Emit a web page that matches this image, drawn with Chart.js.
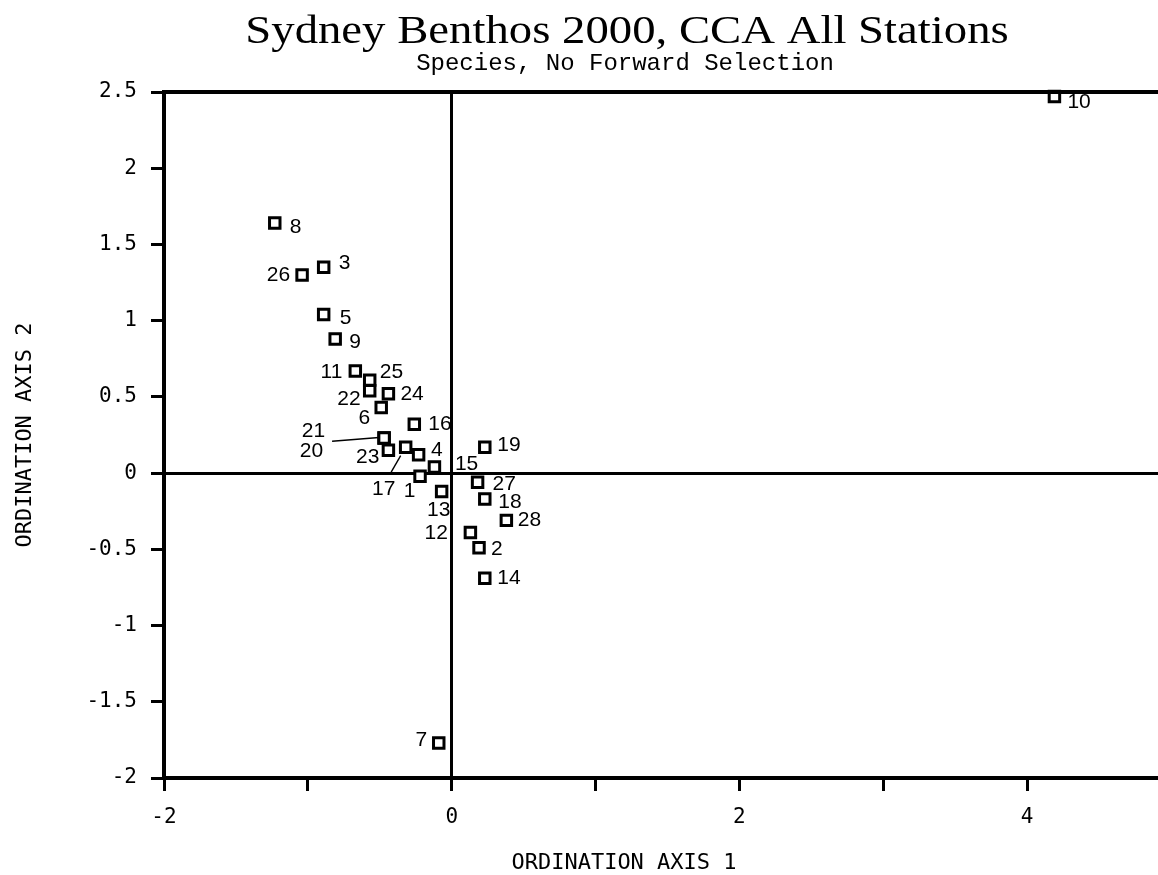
<!DOCTYPE html>
<html>
<head>
<meta charset="utf-8">
<title>Sydney Benthos 2000, CCA All Stations</title>
<script src="https://cdn.jsdelivr.net/npm/chart.js@4.4.1/dist/chart.umd.min.js"></script>
<style>
  html, body { margin: 0; padding: 0; background: #fff; overflow: hidden; }
  #plot { display: block; }
</style>
</head>
<body>
<canvas id="plot" width="1158" height="875"></canvas>
<script>
// Station scores on the first two CCA axes
const stations = ['1','2','3','4','5','6','7','8','9','10','11','12','13','14',
                  '15','16','17','18','19','20','21','22','23','24','25','26','27','28'];
const axis1 = [-0.22, 0.19, -0.89, -0.23, -0.89, -0.49, -0.09, -1.23, -0.81, 4.19,
               -0.67, 0.13, -0.07, 0.23, -0.12, -0.26, -0.32, 0.23, 0.23, -0.47,
               -0.47, -0.57, -0.44, -0.44, -0.57, -1.04, 0.18, 0.38];
const axis2 = [-0.02, -0.49, 1.35, 0.12, 1.04, 0.43, -1.77, 1.64, 0.88, 2.47,
               0.67, -0.39, -0.12, -0.69, 0.04, 0.32, 0.17, -0.17, 0.17, 0.23,
               0.23, 0.54, 0.15, 0.52, 0.61, 1.30, -0.06, -0.31];

// Axis ticks
const xTickValues = [-2, -1, 0, 1, 2, 3, 4];
const xTickLabels = ['-2', '', '0', '', '2', '', '4'];
const yTickValues = [-2, -1.5, -1, -0.5, 0, 0.5, 1, 1.5, 2, 2.5];
const yTickLabels = ['-2', '-1.5', '-1', '-0.5', '0', '0.5', '1', '1.5', '2', '2.5'];

const titleText = 'Sydney Benthos 2000, CCA All Stations';
const subtitleText = 'Species, No Forward Selection';
const xAxisTitle = 'ORDINATION AXIS 1';
const yAxisTitle = 'ORDINATION AXIS 2';

// Where each station number sits relative to its marker: [dx, dy, align]
const labelPlacement = {
  '1': [-4.5, 15.5, 'right'],  '2': [12, 1, 'left'],     '3': [15, -4, 'left'],
  '4': [12.5, -4.5, 'left'],   '5': [16, 4, 'left'],     '6': [-11, 11, 'right'],
  '7': [-11.5, -2.5, 'right'], '8': [15, 4, 'left'],     '9': [14, 3, 'left'],
  '10': [13, 6, 'left'],       '11': [-13, 1, 'right'],  '12': [-22.5, 1, 'right'],
  '13': [-3, 18.5, 'center'],  '14': [12.5, 0, 'left'],  '15': [20.5, -2.5, 'left'],
  '16': [14, 0, 'left'],       '17': [-22, 42, 'center'],'18': [13.5, 3.5, 'left'],
  '19': [12.5, -2, 'left'],    '20': [-61, 13, 'right'], '21': [-59, -7, 'right'],
  '22': [-9, 8, 'right'],      '23': [-9, 6.5, 'right'], '24': [12, 0, 'left'],
  '25': [10, -8, 'left'],      '26': [-12, 0, 'right'],  '27': [15, 2, 'left'],
  '28': [11.5, 0, 'left']
};
// Leader lines for labels set away from their marker: [x1, y1, x2, y2] offsets
const leaderLines = {
  '21': [-52, 3.2, -5, -0.5],
  '17': [-14.5, 25, -5, 8.5]
};

const tickFont = { family: '"DejaVu Sans Mono", monospace', size: 21 };

const pointLabels = {
  id: 'pointLabels',
  afterDatasetsDraw(chart) {
    const ctx = chart.ctx;
    const meta = chart.getDatasetMeta(0);
    ctx.save();
    ctx.fillStyle = '#000';
    ctx.strokeStyle = '#000';
    ctx.font = '21px "Liberation Sans", Arial, sans-serif';
    ctx.textBaseline = 'middle';
    meta.data.forEach((pt, i) => {
      const name = stations[i];
      const [dx, dy, align] = labelPlacement[name];
      ctx.textAlign = align;
      ctx.fillText(name, pt.x + dx, pt.y + dy);
      const lead = leaderLines[name];
      if (lead) {
        ctx.lineWidth = 1.4;
        ctx.beginPath();
        ctx.moveTo(pt.x + lead[0], pt.y + lead[1]);
        ctx.lineTo(pt.x + lead[2], pt.y + lead[3]);
        ctx.stroke();
      }
    });
    ctx.restore();
  }
};

const frameAndHeadings = {
  id: 'frameAndHeadings',
  afterDraw(chart) {
    const ctx = chart.ctx;
    const area = chart.chartArea;
    ctx.save();
    // top edge of the plot frame
    ctx.strokeStyle = '#000';
    ctx.lineWidth = 4;
    ctx.beginPath();
    ctx.moveTo(area.left, area.top);
    ctx.lineTo(area.right, area.top);
    ctx.stroke();

    ctx.fillStyle = '#000';
    ctx.textAlign = 'center';
    ctx.textBaseline = 'alphabetic';
    // main heading, slightly widened serif
    ctx.save();
    ctx.translate(627, 43);
    ctx.scale(1.14, 1);
    ctx.font = '41px "Liberation Serif", "Times New Roman", serif';
    ctx.fillText(titleText, 0, 0);
    ctx.restore();
    // subheading
    ctx.font = '24px "Liberation Mono", monospace';
    ctx.fillText(subtitleText, 625, 70);
    // horizontal axis caption
    ctx.font = '22px "DejaVu Sans Mono", monospace';
    ctx.textBaseline = 'middle';
    ctx.fillText(xAxisTitle, 624, 863);
    ctx.restore();
  }
};

const zeroLine = (c) => (c.tick && c.tick.value === 0) ? '#000' : 'rgba(0,0,0,0)';

new Chart(document.getElementById('plot'), {
  type: 'scatter',
  data: {
    datasets: [{
      data: stations.map((s, i) => ({ x: axis1[i], y: axis2[i] })),
      pointStyle: 'rect',
      pointRadius: 7.4,
      pointHoverRadius: 7.4,
      pointBorderWidth: 3,
      borderColor: '#000',
      backgroundColor: '#fff',
      clip: false
    }]
  },
  options: {
    responsive: false,
    devicePixelRatio: 1,
    animation: false,
    events: [],
    layout: { autoPadding: false, padding: { top: 92, left: 0, right: 0, bottom: 0 } },
    plugins: {
      legend: { display: false },
      tooltip: { enabled: false },
      title: { display: false }
    },
    scales: {
      x: {
        type: 'linear',
        position: 'bottom',
        min: -2,
        max: 4.91,
        afterBuildTicks: (s) => { s.ticks = xTickValues.map(v => ({ value: v })); },
        afterFit: (s) => { s.height = 97; s.paddingLeft = 0; s.paddingRight = 0; },
        ticks: {
          font: tickFont,
          color: '#000',
          padding: 14,
          maxRotation: 0,
          autoSkip: false,
          callback: (v) => xTickLabels[xTickValues.indexOf(v)]
        },
        grid: {
          color: zeroLine,
          lineWidth: 3,
          drawTicks: true,
          tickLength: 13,
          tickColor: '#000',
          tickWidth: 3
        },
        border: { color: '#000', width: 4 },
        title: { display: false }
      },
      y: {
        type: 'linear',
        position: 'left',
        min: -2,
        max: 2.5,
        afterBuildTicks: (s) => { s.ticks = yTickValues.map(v => ({ value: v })); },
        afterFit: (s) => { s.width = 164; s.paddingTop = 0; s.paddingBottom = 0; },
        ticks: {
          font: tickFont,
          color: '#000',
          padding: 14,
          autoSkip: false,
          callback: (v) => yTickLabels[yTickValues.indexOf(v)]
        },
        grid: {
          color: zeroLine,
          lineWidth: 3,
          drawTicks: true,
          tickLength: 13,
          tickColor: '#000',
          tickWidth: 3
        },
        border: { color: '#000', width: 4 },
        title: {
          display: true,
          text: yAxisTitle,
          color: '#000',
          font: { family: '"DejaVu Sans Mono", monospace', size: 22 },
          padding: { top: 12, bottom: 0 }
        }
      }
    }
  },
  plugins: [pointLabels, frameAndHeadings]
});
</script>
</body>
</html>
